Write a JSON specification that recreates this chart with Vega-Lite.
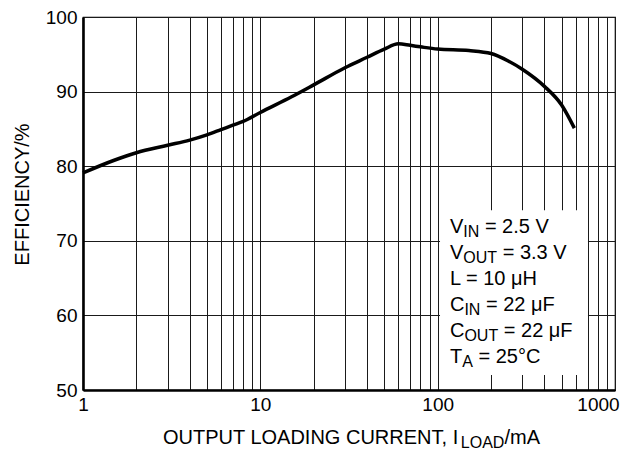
{
  "$schema": "https://vega.github.io/schema/vega-lite/v6.json",
  "width": 532,
  "height": 373,
  "autosize": {"type": "none"},
  "padding": {"left": 83, "top": 17, "right": 15, "bottom": 67},
  "background": "white",
  "config": {
    "view": {"stroke": "black", "strokeWidth": 1.2},
    "font": "Liberation Sans"
  },
  "datasets": {
    "box": [{"x": 103.1, "x2": 704, "y": 74.1, "y2": 52.0}],
    "curve": [
      {"x": 1, "y": 79.1}, {"x": 1.5, "y": 80.8}, {"x": 2, "y": 81.8}, {"x": 3, "y": 82.8},
      {"x": 4, "y": 83.5}, {"x": 5, "y": 84.2}, {"x": 6, "y": 84.9}, {"x": 7, "y": 85.5},
      {"x": 8, "y": 86.0}, {"x": 10, "y": 87.2}, {"x": 15, "y": 89.3}, {"x": 20, "y": 90.9},
      {"x": 30, "y": 93.2}, {"x": 40, "y": 94.6}, {"x": 50, "y": 95.7}, {"x": 60, "y": 96.4},
      {"x": 70, "y": 96.2}, {"x": 80, "y": 96.0}, {"x": 100, "y": 95.7}, {"x": 150, "y": 95.5},
      {"x": 200, "y": 95.1}, {"x": 250, "y": 94.1}, {"x": 300, "y": 93.0}, {"x": 400, "y": 90.7},
      {"x": 500, "y": 88.2}, {"x": 590, "y": 85.1}
    ],
    "mainText": [
      {"x": 117.4, "y": 71.05, "t": "V"}, {"x": 184.6, "y": 71.05, "t": "= 2.5 V"},
      {"x": 117.4, "y": 67.56, "t": "V"}, {"x": 232.6, "y": 67.56, "t": "= 3.3 V"},
      {"x": 117.4, "y": 64.08, "t": "L = 10 μH"},
      {"x": 117.4, "y": 60.59, "t": "C"}, {"x": 187.3, "y": 60.59, "t": "= 22 μF"},
      {"x": 117.4, "y": 57.10, "t": "C"}, {"x": 236.0, "y": 57.10, "t": "= 22 μF"},
      {"x": 117.4, "y": 53.62, "t": "T"}, {"x": 169.9, "y": 53.62, "t": "= 25°C"},
      {"x": 2.825, "y": 42.76, "t": "OUTPUT LOADING CURRENT, I"}, {"x": 237.9, "y": 42.76, "t": "/mA"}
    ],
    "subText": [
      {"x": 139.5, "y": 71.05, "t": "IN"}, {"x": 139.5, "y": 67.56, "t": "OUT"},
      {"x": 141.5, "y": 60.59, "t": "IN"}, {"x": 141.5, "y": 57.10, "t": "OUT"},
      {"x": 137.5, "y": 53.62, "t": "A"}, {"x": 135.1, "y": 42.76, "t": "LOAD"}
    ]
  },
  "layer": [
    {
      "data": {"name": "box"},
      "mark": {"type": "rect", "fill": "white", "strokeWidth": 0},
      "encoding": {
        "x": {
          "field": "x", "type": "quantitative",
          "scale": {"type": "log", "domain": [1, 1000], "nice": false},
          "axis": {
            "values": [1,2,3,4,5,6,7,8,9,10,20,30,40,50,60,70,80,90,100,200,300,400,500,600,700,800,900,1000],
            "labelExpr": "datum.value==1||datum.value==10||datum.value==100||datum.value==1000 ? format(datum.value,'d') : ''",
            "labelOffset": {"expr": "datum.value==1000 ? -17 : 0"},
            "grid": true, "gridColor": "#1a1a1a", "gridWidth": 1, "gridOpacity": 1,
            "ticks": false, "domainColor": "black", "domainWidth": 2.6,
            "labelFontSize": 19, "labelColor": "black", "labelPadding": 5,
            "labelOverlap": false, "labelFlush": false, "title": null
          }
        },
        "x2": {"field": "x2"},
        "y": {
          "field": "y", "type": "quantitative",
          "scale": {"domain": [50, 100], "nice": false, "zero": false},
          "axis": {
            "values": [50, 60, 70, 80, 90, 100],
            "grid": true, "gridColor": "#1a1a1a", "gridWidth": 1, "gridOpacity": 1,
            "ticks": false, "domainColor": "black", "domainWidth": 2.6,
            "labelFontSize": 19, "labelColor": "black", "labelPadding": 6,
            "title": "EFFICIENCY/%", "titleFontSize": 20, "titleFontWeight": "normal",
            "titleColor": "black", "titleAngle": 270, "titleAlign": "center",
            "titleBaseline": "alphabetic", "titleX": -55, "titleY": 177
          }
        },
        "y2": {"field": "y2"}
      }
    },
    {
      "data": {"name": "curve"},
      "mark": {"type": "line", "color": "black", "strokeWidth": 3.5, "interpolate": "monotone"},
      "encoding": {
        "x": {"field": "x", "type": "quantitative"},
        "y": {"field": "y", "type": "quantitative"}
      }
    },
    {
      "data": {"name": "mainText"},
      "mark": {"type": "text", "align": "left", "baseline": "alphabetic", "fontSize": 20, "color": "black"},
      "encoding": {
        "x": {"field": "x", "type": "quantitative"},
        "y": {"field": "y", "type": "quantitative"},
        "text": {"field": "t"}
      }
    },
    {
      "data": {"name": "subText"},
      "mark": {"type": "text", "align": "left", "baseline": "alphabetic", "fontSize": 16, "dy": 4, "color": "black"},
      "encoding": {
        "x": {"field": "x", "type": "quantitative"},
        "y": {"field": "y", "type": "quantitative"},
        "text": {"field": "t"}
      }
    }
  ]
}
